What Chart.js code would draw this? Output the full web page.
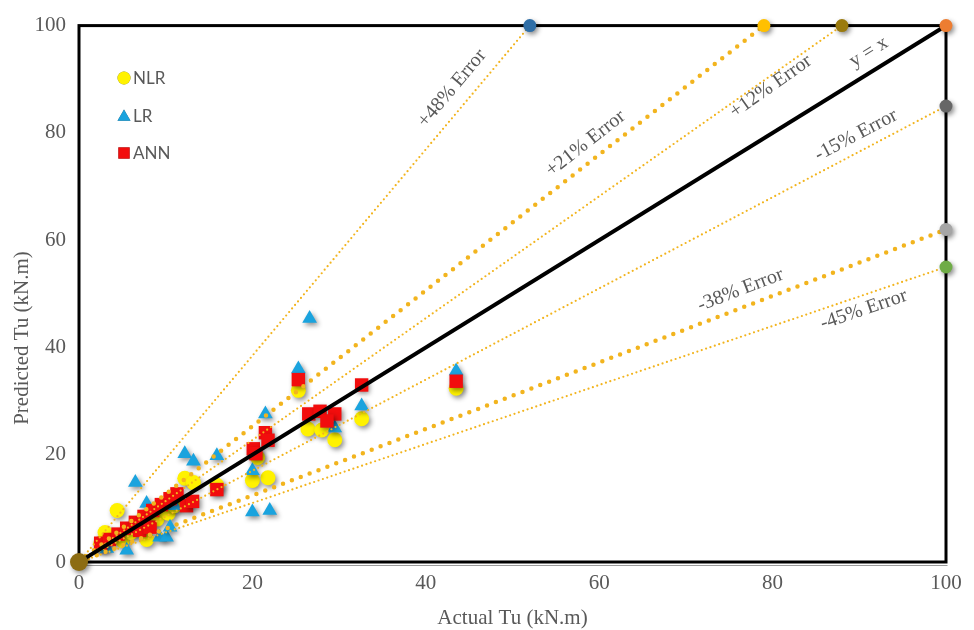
<!DOCTYPE html>
<html>
<head>
<meta charset="utf-8">
<script src="https://cdn.jsdelivr.net/npm/chart.js@4.4.1/dist/chart.umd.min.js"></script>
<style>
  html, body { margin: 0; padding: 0; background: #ffffff; }
  #wrap { width: 974px; height: 630px; }
</style>
</head>
<body>
<div id="wrap"><canvas id="c" width="974" height="630"></canvas></div>
<script>
// Actual vs predicted ultimate torque (kN.m) for the three models
const nlrActual    = [2.5, 3.0, 4.4, 5.0, 6.0, 7.0, 7.8, 9.0, 10.3, 11.0, 12.2, 13.2, 15.9, 20.0, 21.8, 20.6, 26.4, 28.0, 29.5, 25.3, 32.6, 43.5];
const nlrPredicted = [3.5, 5.5, 9.6, 4.0, 5.5, 7.0, 4.2, 8.0, 9.1, 10.5, 15.6, 14.8, 14.3, 15.2, 15.7, 19.5, 24.8, 24.6, 22.8, 32.0, 26.7, 32.4];

const lrActual     = [2.4, 3.2, 5.5, 6.5, 7.8, 9.3, 10.1, 10.5, 11.0, 12.2, 13.2, 15.9, 20.0, 20.0, 22.0, 21.5, 25.3, 26.6, 29.5, 32.6, 43.5];
const lrPredicted  = [2.8, 2.5, 2.2, 14.8, 10.9, 4.6, 4.6, 6.5, 10.5, 20.2, 18.8, 19.8, 17.0, 9.3, 9.6, 27.6, 36.0, 45.4, 25.0, 29.1, 35.6];

const annActual    = [2.5, 3.5, 4.5, 5.5, 6.5, 7.0, 7.5, 8.2, 8.5, 9.5, 10.5, 11.3, 12.4, 13.1, 15.9, 20.1, 20.4, 21.5, 21.8, 25.3, 26.5, 27.8, 29.5, 28.6, 32.6, 43.5];
const annPredicted = [3.5, 4.2, 5.2, 6.3, 7.4, 5.9, 8.5, 6.5, 9.6, 10.7, 11.8, 12.7, 10.5, 11.3, 13.5, 21.1, 20.2, 24.1, 22.7, 34.0, 27.6, 28.1, 27.6, 26.3, 33.0, 33.7];

// Error bounds: each runs from the origin to the frame edge
const boundLabels = ['+48% Error', '+21% Error', '+12% Error', '-15% Error', '-38% Error', '-45% Error'];
const boundEndX   = [52, 79, 88, 100, 100, 100];
const boundEndY   = [100, 100, 100, 85, 62, 55];
const boundHeavy  = [false, true, false, false, true, false];
const boundEndColors = ['#2F6EA6', '#FFC000', '#9A7A0E', '#666666', '#A5A5A5', '#6FAC46'];

const axisTicks = [0, 20, 40, 60, 80, 100];

const GOLD = '#F2B41E';
const TEXT = '#595959';
const SERIF = '"Liberation Serif", "Times New Roman", serif';

const toPoints = (xs, ys) => xs.map((x, i) => ({ x: x, y: ys[i] }));

// label placement along each bound (fraction of length, perpendicular px offset)
const boundLabelPlace = [
  { at: 0.86, off: 19 },
  { at: 0.755, off: 17 },
  { at: 0.90, off: -9 },
  { at: 0.905, off: 16 },
  { at: 0.77, off: 17 },
  { at: 0.90, off: -14 }
];

const datasets = [];

// end markers (drawn on top)
datasets.push({
  label: 'ends',
  data: [{ x: 0, y: 0 }].concat(boundEndX.map((x, i) => ({ x: x, y: boundEndY[i] })), [{ x: 100, y: 100 }]),
  backgroundColor: ['#8C6C12'].concat(boundEndColors, ['#ED7D31']),
  borderWidth: 0,
  pointRadius: [9].concat(boundEndX.map(() => 6.5), [6.5]),
  pointStyle: 'circle',
  order: 0,
  clip: false,
  shadow: true
});

// y = x reference
datasets.push({
  type: 'line',
  label: 'y = x',
  data: [{ x: 0, y: 0 }, { x: 100, y: 100 }],
  borderColor: '#000000',
  borderWidth: 4,
  pointRadius: 0,
  showLine: true,
  fill: false,
  order: 1,
  lineText: 'y = x',
  textAt: 0.922,
  textOff: 18
});

boundLabels.forEach((name, i) => {
  datasets.push({
    type: 'line',
    label: name,
    data: [{ x: 0, y: 0 }, { x: boundEndX[i], y: boundEndY[i] }],
    borderColor: GOLD,
    borderWidth: boundHeavy[i] ? 4.5 : 2.2,
    borderDash: boundHeavy[i] ? [0, 9.5] : [0, 4.6],
    borderCapStyle: 'round',
    pointRadius: 0,
    showLine: true,
    fill: false,
    order: 2,
    lineText: name,
    textAt: boundLabelPlace[i].at,
    textOff: boundLabelPlace[i].off
  });
});

datasets.push({
  label: 'ANN',
  data: toPoints(annActual, annPredicted),
  backgroundColor: '#F20D0D',
  borderWidth: 0,
  pointStyle: 'rect',
  pointRadius: 9.5,
  order: 3,
  clip: false,
  shadow: true
});
datasets.push({
  label: 'LR',
  data: toPoints(lrActual, lrPredicted),
  backgroundColor: '#1AA3DE',
  borderWidth: 0,
  pointStyle: 'triangle',
  pointRadius: 8.5,
  order: 4,
  clip: false,
  shadow: true
});
datasets.push({
  label: 'NLR',
  data: toPoints(nlrActual, nlrPredicted),
  backgroundColor: '#FFF200',
  borderWidth: 0,
  pointStyle: 'circle',
  pointRadius: 7.5,
  order: 5,
  clip: false,
  shadow: true
});

// soft drop shadow under markers
const shadowPlugin = {
  id: 'markerShadow',
  beforeDatasetDraw(chart, args) {
    const ds = chart.data.datasets[args.index];
    if (!ds.shadow) return;
    const ctx = chart.ctx;
    ctx.save();
    ctx.shadowColor = 'rgba(0,0,0,0.45)';
    ctx.shadowBlur = 5;
    ctx.shadowOffsetX = 2;
    ctx.shadowOffsetY = 2.5;
  },
  afterDatasetDraw(chart, args) {
    const ds = chart.data.datasets[args.index];
    if (!ds.shadow) return;
    chart.ctx.restore();
  }
};

// plot frame
const framePlugin = {
  id: 'frame',
  beforeDatasetsDraw(chart) {
    const { ctx, chartArea: a } = chart;
    ctx.save();
    ctx.strokeStyle = '#9A9A9A';
    ctx.lineWidth = 1.2;
    ctx.beginPath();
    ctx.moveTo(a.left, a.bottom + 3.5);
    ctx.lineTo(a.right + 1.5, a.bottom + 3.5);
    ctx.stroke();
    ctx.strokeStyle = '#000000';
    ctx.lineWidth = 3;
    ctx.strokeRect(a.left, a.top, a.right - a.left, a.bottom - a.top);
    ctx.restore();
  }
};

// rotated captions along the bound lines, legend and axis titles
const textPlugin = {
  id: 'captions',
  afterDatasetsDraw(chart) {
    const ctx = chart.ctx;
    const xs = chart.scales.x, ys = chart.scales.y;
    ctx.save();
    ctx.fillStyle = TEXT;
    ctx.font = '20px ' + SERIF;
    ctx.textAlign = 'center';
    ctx.textBaseline = 'middle';
    chart.data.datasets.forEach(ds => {
      if (!ds.lineText) return;
      const p0 = ds.data[0], p1 = ds.data[1];
      const x0 = xs.getPixelForValue(p0.x), y0 = ys.getPixelForValue(p0.y);
      const x1 = xs.getPixelForValue(p1.x), y1 = ys.getPixelForValue(p1.y);
      const ang = Math.atan2(y1 - y0, x1 - x0);
      const len = Math.hypot(x1 - x0, y1 - y0);
      const ux = (x1 - x0) / len, uy = (y1 - y0) / len;
      // normal pointing to the upper-left side of the line
      const nx = uy, ny = -ux;
      const cx = x0 + ux * len * ds.textAt + nx * ds.textOff;
      const cy = y0 + uy * len * ds.textAt + ny * ds.textOff;
      ctx.save();
      ctx.translate(cx, cy);
      ctx.rotate(ang);
      ctx.fillText(ds.lineText, 0, 0);
      ctx.restore();
    });

    // legend
    const legendItems = ['NLR', 'LR', 'ANN'];
    const legendRows = [78, 116, 153];
    ctx.font = '17px Lato, "Open Sans", sans-serif';
    ctx.textAlign = 'left';
    legendItems.forEach((name, i) => {
      const ds = chart.data.datasets.find(d => d.label === name);
      const r = ds.pointStyle === 'rect' ? 8 : (ds.pointStyle === 'triangle' ? 7.5 : 6.5);
      Chart.helpers.drawPoint(ctx, {
        pointStyle: ds.pointStyle,
        radius: r,
        rotation: 0,
        borderWidth: 0
      }, 124, legendRows[i] + (ds.pointStyle === 'triangle' ? 1 : 0));
      ctx.fillStyle = ds.backgroundColor;
      ctx.fill();
      ctx.fillStyle = TEXT;
      ctx.fillText(name, 133, legendRows[i] + 1);
    });

    // axis titles
    ctx.font = '21px ' + SERIF;
    ctx.textAlign = 'center';
    ctx.fillText('Actual Tu (kN.m)', (chart.chartArea.left + chart.chartArea.right) / 2, 618);
    ctx.save();
    ctx.translate(22, 338);
    ctx.rotate(-Math.PI / 2);
    ctx.fillText('Predicted Tu (kN.m)', 0, 0);
    ctx.restore();
    ctx.restore();
  }
};

const tickStyle = {
  color: TEXT,
  font: { family: SERIF, size: 21 },
  autoSkip: false
};

new Chart(document.getElementById('c'), {
  type: 'scatter',
  data: { datasets: datasets },
  options: {
    responsive: false,
    animation: false,
    events: [],
    layout: { padding: { left: 0, top: 22, right: 28, bottom: 0 } },
    plugins: { legend: { display: false }, tooltip: { enabled: false } },
    scales: {
      x: {
        type: 'linear',
        min: 0, max: 100,
        grid: { display: false, drawTicks: false },
        border: { display: false },
        afterBuildTicks(s) { s.ticks = axisTicks.map(v => ({ value: v })); },
        afterFit(s) { s.height = 68; },
        ticks: Object.assign({ padding: 9 }, tickStyle)
      },
      y: {
        type: 'linear',
        min: 0, max: 100,
        grid: { display: false, drawTicks: false },
        border: { display: false },
        afterBuildTicks(s) { s.ticks = axisTicks.map(v => ({ value: v })); },
        afterFit(s) { s.width = 79; },
        ticks: Object.assign({ padding: 13 }, tickStyle)
      }
    }
  },
  plugins: [shadowPlugin, framePlugin, textPlugin]
});
</script>
</body>
</html>
